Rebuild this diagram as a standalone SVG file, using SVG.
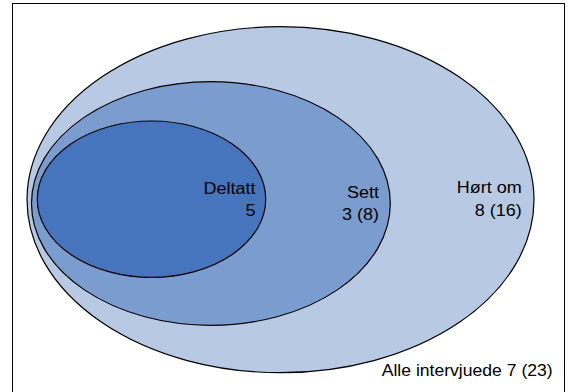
<svg xmlns="http://www.w3.org/2000/svg" width="568" height="392" viewBox="0 0 568 392">
<style>
.set{stroke:#000;stroke-width:1.2}
.lbl{font-family:"Liberation Sans",Arial,sans-serif;font-size:15.8px;fill:#000;text-anchor:end}
</style>
<rect x="0" y="0" width="568" height="392" fill="#fff"/>
<rect id="frame" x="12.5" y="3.5" width="552" height="400" fill="#fff" stroke="#000" stroke-width="1"/>
<g id="hort-om">
<ellipse class="set" cx="280.5" cy="199.7" rx="253.5" ry="173" fill="#b8c9e3"/>
<text class="lbl" x="521.7" y="193.3" textLength="65" lengthAdjust="spacingAndGlyphs">Hørt om</text>
<text class="lbl" x="521.7" y="216" textLength="47" lengthAdjust="spacingAndGlyphs">8 (16)</text>
</g>
<g id="sett">
<ellipse class="set" cx="210.9" cy="203.5" rx="179.4" ry="121.8" fill="#7b9cce"/>
<text class="lbl" x="379" y="198" textLength="32" lengthAdjust="spacingAndGlyphs">Sett</text>
<text class="lbl" x="379" y="220" textLength="37" lengthAdjust="spacingAndGlyphs">3 (8)</text>
</g>
<g id="deltatt">
<ellipse class="set" cx="151.5" cy="199.2" rx="114.2" ry="78.2" fill="#4675bd"/>
<text class="lbl" x="255.5" y="194" textLength="52" lengthAdjust="spacingAndGlyphs">Deltatt</text>
<text class="lbl" x="255.5" y="215.7" textLength="10" lengthAdjust="spacingAndGlyphs">5</text>
</g>
<g id="alle-intervjuede">
<text class="lbl" x="552.7" y="376" textLength="171" lengthAdjust="spacingAndGlyphs">Alle intervjuede 7 (23)</text>
</g>
<g id="connectors"></g>
</svg>
